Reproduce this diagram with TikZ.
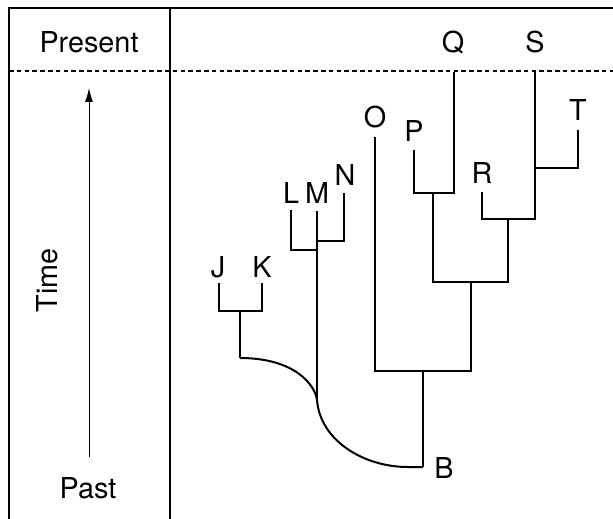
\documentclass[tikz,border=0pt]{standalone}
\usepackage{fontspec}
\setmainfont{TeX Gyre Heros}
\usetikzlibrary{arrows.meta}

\begin{document}
\begin{tikzpicture}
    [ x=0.5pt, y=-0.5pt,
      frame/.style={black, line width=0.75pt},
      sep/.style={black, line width=0.7pt, dash pattern=on 2.3pt off 1.6pt},
      branch/.style={black, line width=1pt},
      arrow/.style={black,-{Latex[length=7pt,width=4pt]}, line width=0.5pt},
      lab/.style={anchor=base, inner sep=0pt, font=\fontsize{14.4}{17}\selectfont}]

  \useasboundingbox (0,0) rectangle (613,518);

%%%%%%%%%%%%%%%%%%%%%%%%%%%%%%%%%%%%%%%%%%%%%%%%%%%%%%%%%%%%%%%%%%%%%%%%%%%%%%%%%%%%%%%%%%%%%%%%%%%%%%%%%%
%draw frame and time axis
	  \draw[frame] (613,8) -- (9,8) -- (9,530);
	  \draw[frame] (170,8) -- (170,530);
	  \draw[sep]   (9,71) -- (613,71);

	  \node[lab] (present) at (89,53) {Present};
	  \node[lab] (past) at (88,498) {Past};
	  \node[lab, rotate=90] (time) at (57,280) {Time};

	  \coordinate (tBot) at (89,457);
	  \coordinate (tTop) at (89,88);
	  \draw[arrow] (tBot) -- (tTop);

%%%%%%%%%%%%%%%%%%%%%%%%%%%%%%%%%%%%%%%%%%%%%%%%%%%%%%%%%%%%%%%%%%%%%%%%%%%%%%%%%%%%%%%%%%%%%%%%%%%%%%%%%%
%labels
	  \node[lab] (Q) at (453,53) {Q};
	  \node[lab] (S) at (535,53) {S};
	  \node[lab] (O) at (375,127) {O};
	  \node[lab] (P) at (414,141) {P};
	  \node[lab] (R) at (482,183) {R};
	  \node[lab] (T) at (578,121) {T};
	  \node[lab] (L) at (291,203) {L};
	  \node[lab] (M) at (317,203) {M};
	  \node[lab] (N) at (345,185) {N};
	  \node[lab] (J) at (218,277) {J};
	  \node[lab] (K) at (262,277) {K};
	  \node[lab] (B) at (444,478) {B};

%%%%%%%%%%%%%%%%%%%%%%%%%%%%%%%%%%%%%%%%%%%%%%%%%%%%%%%%%%%%%%%%%%%%%%%%%%%%%%%%%%%%%%%%%%%%%%%%%%%%%%%%%%
%branch tips and junctions
	  \coordinate (tipQ) at (454,72);
	  \coordinate (tipS) at (535,72);
	  \coordinate (tipP) at (414,150);
	  \coordinate (tipR) at (482,192);
	  \coordinate (tipT) at (578,130);
	  \coordinate (tipO) at (375,137);
	  \coordinate (tipL) at (291,210);
	  \coordinate (tipM) at (317,211);
	  \coordinate (tipN) at (344,193);
	  \coordinate (tipJ) at (219,283);
	  \coordinate (tipK) at (262,283);

	  \coordinate (jPQ) at (433,193);
	  \coordinate (jST) at (535,168);
	  \coordinate (jRS) at (508,219);
	  \coordinate (jPR) at (471,282);
	  \coordinate (jOB) at (423,371);
	  \coordinate (rootB) at (423,467);
	  \coordinate (jLM) at (317,250);
	  \coordinate (jMN) at (317,241);
	  \coordinate (jM) at (317,400);
	  \coordinate (jJK) at (240,311);
	  \coordinate (bJK) at (240,358);

%%%%%%%%%%%%%%%%%%%%%%%%%%%%%%%%%%%%%%%%%%%%%%%%%%%%%%%%%%%%%%%%%%%%%%%%%%%%%%%%%%%%%%%%%%%%%%%%%%%%%%%%%%
%draw tree
	  \draw[branch] (tipP) |- (jPQ) -| (tipQ);
	  \draw[branch] (tipT) |- (jST);
	  \draw[branch] (tipR) |- (jRS) -| (tipS);
	  \draw[branch] (jPQ) |- (jPR) -| (jRS);
	  \draw[branch] (tipO) |- (jOB) -| (jPR);
	  \draw[branch] (jOB) -- (rootB);

	  \draw[branch] (tipL) |- (jLM);
	  \draw[branch] (tipN) |- (jMN);
	  \draw[branch] (tipM) -- (jM);
	  \draw[branch] (tipJ) |- (jJK) -| (tipK);
	  \draw[branch] (jJK) -- (bJK);

	  \draw[branch] (rootB) -- ++(-15,0) .. controls +(-45,0) and +(3,40) .. (jM)
	                .. controls +(-2,-15) and +(55,0) .. (bJK);

\end{tikzpicture}
\end{document}
